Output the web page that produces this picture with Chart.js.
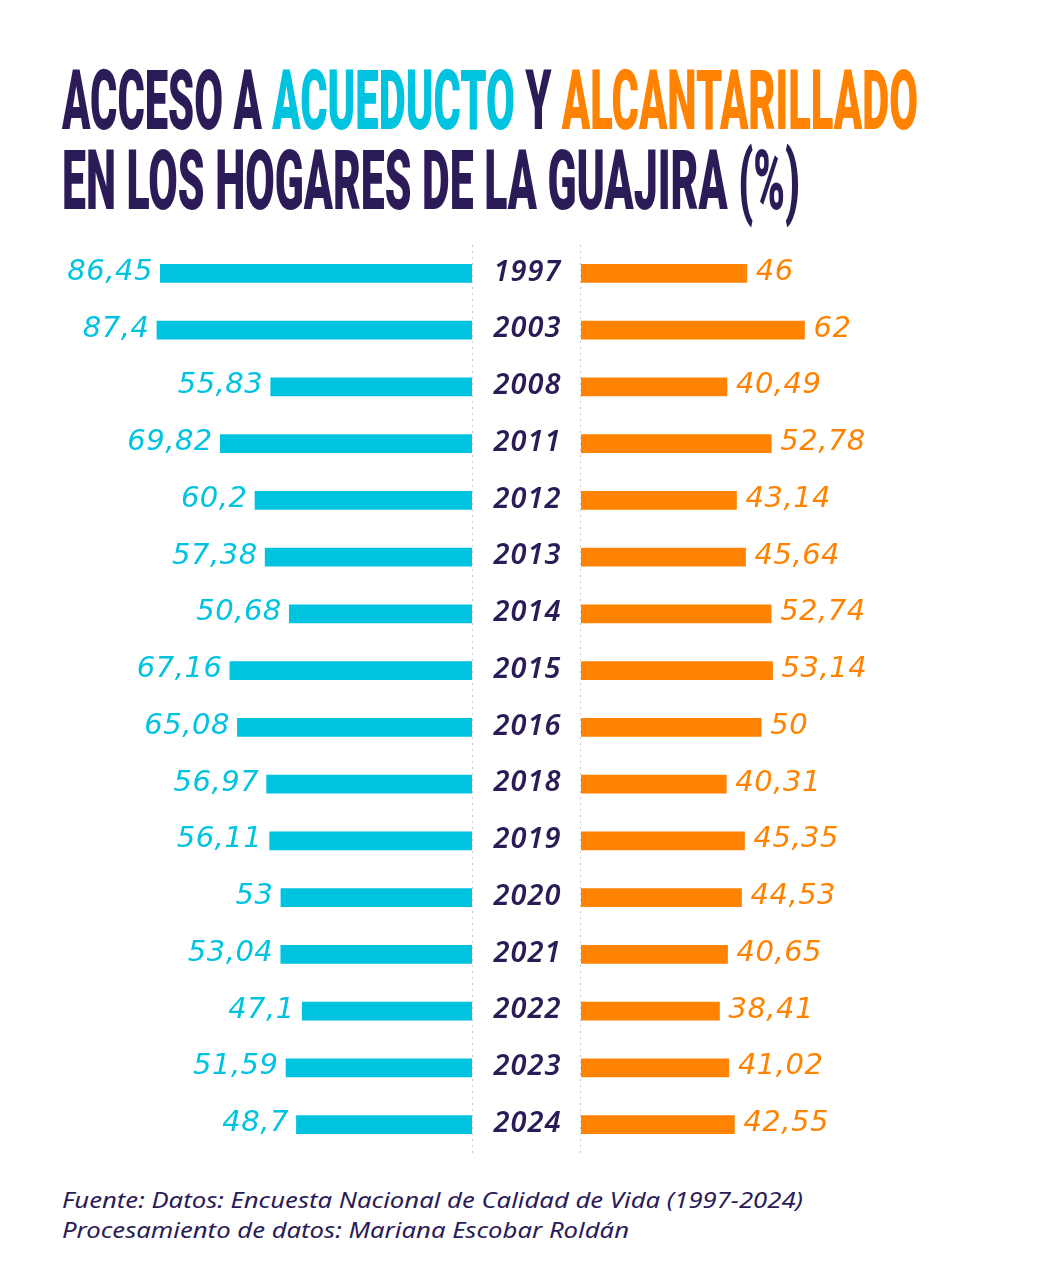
<!DOCTYPE html>
<html>
<head>
<meta charset="utf-8">
<script src="https://cdn.jsdelivr.net/npm/chart.js@4.4.1/dist/chart.umd.min.js"></script>
<style>
  html, body { margin:0; padding:0; background:#fff; }
  #page { position:relative; width:1052px; height:1280px; overflow:hidden; background:#fff; }
  .title { position:absolute; left:62px; font-family:Roboto, "Liberation Sans", sans-serif; font-weight:900;
           font-size:84px; line-height:84px; white-space:nowrap; color:#2b1c58; transform-origin:0 0; letter-spacing:0; }
  .cy { color:#00c3e0; }
  .or { color:#ff8300; }
  .foot { position:absolute; left:62px; font-family:"Noto Sans", sans-serif; font-style:italic; font-size:21px;
          line-height:21px; color:#2b1c58; white-space:nowrap; transform-origin:0 0; }
  canvas { position:absolute; }
</style>
</head>
<body>
<div id="page">
  <div class="title" id="t1" style="top:59px">ACCESO A <span class="cy">ACUEDUCTO</span> Y <span class="or">ALCANTARILLADO</span></div>
  <div class="title" id="t2" style="top:139px">EN LOS HOGARES DE LA GUAJIRA (%)</div>
  <canvas id="left" style="left:0px;top:245px"></canvas>
  <canvas id="right" style="left:472px;top:245px"></canvas>
  <div class="foot" id="f1" style="top:1190px">Fuente: Datos: Encuesta Nacional de Calidad de Vida (1997-2024)</div>
  <div class="foot" id="f2" style="top:1220px">Procesamiento de datos: Mariana Escobar Roldán</div>
</div>
<script>
const years = ['1997','2003','2008','2011','2012','2013','2014','2015','2016','2018','2019','2020','2021','2022','2023','2024'];
const acueducto = [86.45, 87.4, 55.83, 69.82, 60.2, 57.38, 50.68, 67.16, 65.08, 56.97, 56.11, 53, 53.04, 47.1, 51.59, 48.7];
const alcantarillado = [46, 62, 40.49, 52.78, 43.14, 45.64, 52.74, 53.14, 50, 40.31, 45.35, 44.53, 40.65, 38.41, 41.02, 42.55];

const CYAN = '#00c3e0', ORANGE = '#ff8300', PURPLE = '#2b1c58';
const PX_PER_UNIT = 3.605;
const H = 908;
const LABEL_FONT = 'italic 400 29px "DejaVu Sans", sans-serif';
const LABEL_SPACING = 0.5;
const YEAR_FONT = 'italic 600 29px "Noto Sans", sans-serif';
const YEAR_SPACING = 1;

function fmt(v){ return String(v).replace('.', ','); }

function fitWidth(id, target){
  const el = document.getElementById(id);
  el.style.transform = 'none';
  const w = el.getBoundingClientRect().width;
  el.style.transform = 'scaleX(' + (target / w) + ')';
}
function fitAll(){
  fitWidth('t1', 856);
  fitWidth('t2', 738);
  fitWidth('f1', 741);
  fitWidth('f2', 567);
}

const valueLabels = {
  id: 'valueLabels',
  afterDatasetsDraw(chart, args, opts){
    const ctx = chart.ctx;
    const meta = chart.getDatasetMeta(0);
    const data = chart.data.datasets[0].data;
    ctx.save();
    ctx.font = LABEL_FONT;
    ctx.letterSpacing = LABEL_SPACING + 'px';
    ctx.fillStyle = opts.color;
    ctx.textBaseline = 'middle';
    ctx.textAlign = opts.side === 'left' ? 'right' : 'left';
    meta.data.forEach((bar, i) => {
      const x = opts.side === 'left' ? bar.x - 8 + LABEL_SPACING : bar.x + 9;
      ctx.fillText(fmt(data[i]), x, bar.y - 1);
    });
    ctx.restore();
  }
};

const centerDecor = {
  id: 'centerDecor',
  beforeDatasetsDraw(chart){
    const ctx = chart.ctx;
    ctx.save();
    ctx.strokeStyle = '#c9c9d2';
    ctx.lineWidth = 1;
    ctx.setLineDash([2, 4]);
    [0.5, 108.5].forEach(x => {
      ctx.beginPath();
      ctx.moveTo(x, 0);
      ctx.lineTo(x, chart.height);
      ctx.stroke();
    });
    ctx.restore();
  },
  afterDatasetsDraw(chart){
    const ctx = chart.ctx;
    const yScale = chart.scales.y;
    ctx.save();
    ctx.font = YEAR_FONT;
    ctx.letterSpacing = YEAR_SPACING + 'px';
    ctx.fillStyle = PURPLE;
    ctx.textAlign = 'center';
    ctx.textBaseline = 'middle';
    chart.data.labels.forEach((lab, i) => {
      ctx.fillText(lab, 55 + YEAR_SPACING / 2, yScale.getPixelForValue(i) - 1);
    });
    ctx.restore();
  }
};

function makeChart(id, width, padLeft, data, color, side, extraPlugins){
  const cv = document.getElementById(id);
  cv.width = width; cv.height = H;
  cv.style.width = width + 'px'; cv.style.height = H + 'px';
  const areaW = width - padLeft;
  return new Chart(cv, {
    type: 'bar',
    data: { labels: years, datasets: [{ data: data, backgroundColor: color, barThickness: 18, borderWidth: 0 }] },
    options: {
      indexAxis: 'y',
      responsive: false,
      animation: false,
      devicePixelRatio: 1,
      layout: { padding: { left: padLeft, right: 0, top: 0, bottom: 0 } },
      scales: {
        x: { display: false, min: 0, max: areaW / PX_PER_UNIT, reverse: side === 'left' },
        y: { display: false, offset: true }
      },
      plugins: {
        legend: { display: false },
        tooltip: { enabled: false },
        valueLabels: { color: color, side: side }
      }
    },
    plugins: [valueLabels].concat(extraPlugins)
  });
}

fitAll();
document.fonts.ready.then(() => {
  fitAll();
  makeChart('left', 472, 0, acueducto, CYAN, 'left', []);
  makeChart('right', 580, 109, alcantarillado, ORANGE, 'right', [centerDecor]);
});
</script>
</body>
</html>
